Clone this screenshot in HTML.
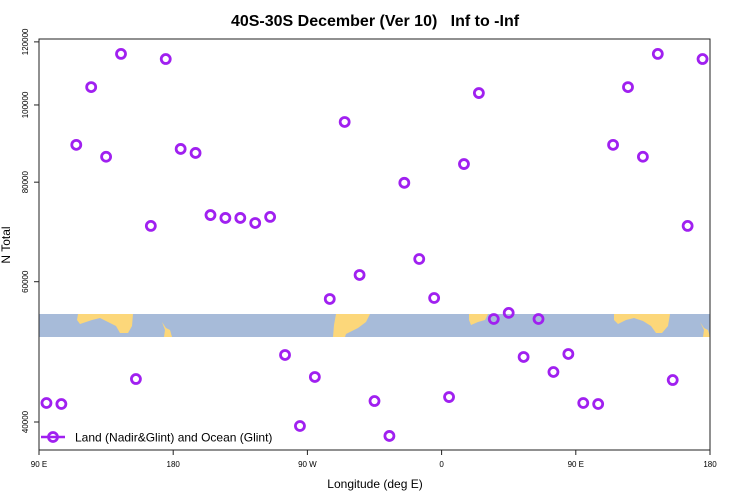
<!DOCTYPE html>
<html><head><meta charset="utf-8"><style>
body{margin:0;background:#fff;}
svg{display:block;font-family:"Liberation Sans",sans-serif;}
</style></head><body>
<svg id="chart" width="750" height="500">
<text x="375" y="26" text-anchor="middle" font-size="16" font-weight="bold" style="white-space:pre">40S-30S December (Ver 10)   Inf to -Inf</text>
<g id="band">
<rect x="39" y="314" width="671" height="23" fill="#a7bbd9"></rect>
<path d="M78,314 L133,314 L132,326 L128,333 L120,333 L116,326 L108,322 L100,318 L92,320 L86,322 L80,324 L77,320 Z" fill="#fcd77a"></path>
<path d="M162,322 L166,328 L170,330 L172,337 L164,337 L165,330 Z" fill="#fcd77a"></path>
<path d="M336,314 L370,314 L366,322 L358,328 L346,334 L345,337 L333,337 L334,325 Z" fill="#fcd77a"></path>
<path d="M469,314 L488,314 L485,320 L478,322 L471,325 L469,320 Z" fill="#fcd77a"></path>
<path d="M614,314 L670,314 L668,326 L662,333 L656,333 L651,326 L643,321 L634,318 L626,320 L618,324 L614,320 Z" fill="#fcd77a"></path>
<path d="M700,322 L704,328 L708,330 L710,337 L703,337 L704,330 Z" fill="#fcd77a"></path>
</g>
<rect x="39" y="39" width="671" height="411" fill="none" stroke="#222" stroke-width="1"></rect>
<g id="axes"></g>
<g id="points"></g>
<text x="375" y="488" text-anchor="middle" font-size="12">Longitude (deg E)</text>
<text transform="translate(10,245) rotate(-90)" text-anchor="middle" font-size="12">N Total</text>
<g>
<line x1="41" y1="437" x2="65" y2="437" stroke="#a020f0" stroke-width="2.5"></line>
<circle cx="53" cy="437" r="4.5" fill="none" stroke="#a020f0" stroke-width="2.8"></circle>
<text x="75" y="441.5" font-size="12">Land (Nadir&amp;Glint) and Ocean (Glint)</text>
</g>
</svg>
<script>
const longitudes=[95,105,115,125,135,145,155,165,175,185,195,205,215,225,235,245,255,265,275,285,295,305,315,325,335,345,355,365,375,385,395,405,415,425,435,445,455,465,475,485,495,505,515,525,535];
const nTotal=[42258,42135,89110,105300,86100,115900,45290,70500,114200,88060,87050,72750,72140,72140,71100,72360,48550,39540,45560,57080,95200,61180,42500,38420,79850,64070,57240,42990,84300,103500,53870,54830,48270,53870,46220,48690,42258,42135,89110,105300,86100,115900,45160,70500,114200];
const xTickValues=[90,180,270,360,450,540];
const xTickLabels=["90 E","180","90 W","0","90 E","180"];
const yTickValues=[40000,60000,80000,100000,120000];
const yTickLabels=["40000","60000","80000","100000","120000"];
const NS="http://www.w3.org/2000/svg";
function xScale(lon){return 39+(lon-90)*671/450;}
function yScale(v){return 422-346*Math.log(v/40000);}
const axes=document.getElementById('axes');
xTickValues.forEach((t,i)=>{
 const l=document.createElementNS(NS,'line');
 l.setAttribute('x1',xScale(t));l.setAttribute('x2',xScale(t));l.setAttribute('y1',450);l.setAttribute('y2',455);l.setAttribute('stroke','#222');
 
 
 axes.appendChild(l);
 const tx=document.createElementNS(NS,'text');
 tx.setAttribute('x',xScale(t));tx.setAttribute('y',467);tx.setAttribute('font-size','8');tx.setAttribute('text-anchor','middle');
 tx.textContent=xTickLabels[i];
 
 
 axes.appendChild(tx);
});
yTickValues.forEach((t,i)=>{
 const y=yScale(t);
 const l=document.createElementNS(NS,'line');
 l.setAttribute('x1',34);l.setAttribute('x2',39);l.setAttribute('y1',y);l.setAttribute('y2',y);l.setAttribute('stroke','#222');
 
 
 axes.appendChild(l);
 const tx=document.createElementNS(NS,'text');
 tx.setAttribute('transform','translate(28,'+y+') rotate(-90)');tx.setAttribute('font-size','8');tx.setAttribute('text-anchor','middle');
 tx.textContent=yTickLabels[i];
 
 
 axes.appendChild(tx);
});
const pts=document.getElementById('points');
longitudes.forEach((lon,i)=>{
 const c=document.createElementNS(NS,'circle');
 c.setAttribute('cx',xScale(lon));c.setAttribute('cy',yScale(nTotal[i]));c.setAttribute('r',4.5);
 c.setAttribute('fill','none');c.setAttribute('stroke','#a020f0');c.setAttribute('stroke-width','2.8');
 
 
 pts.appendChild(c);
});
</script>
</body></html>
